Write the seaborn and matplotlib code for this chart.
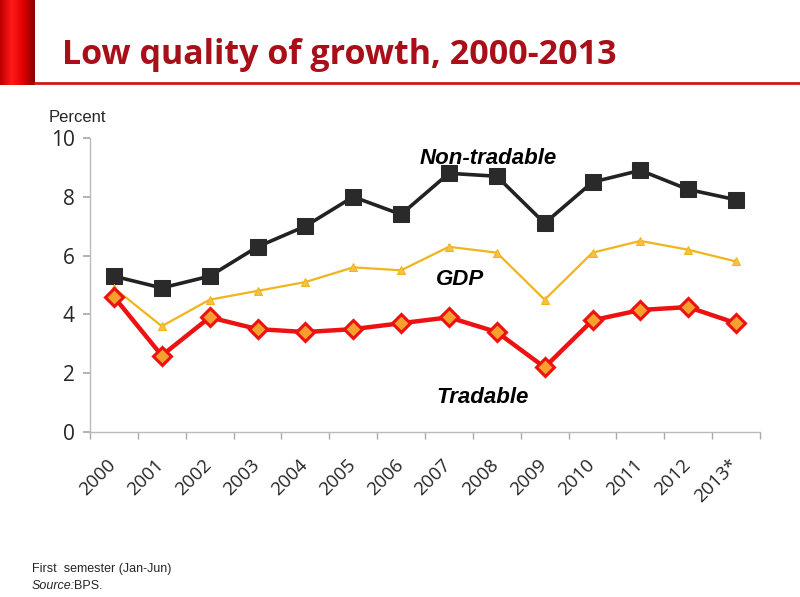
import matplotlib
matplotlib.use("Agg")
import matplotlib.pyplot as plt
import matplotlib.transforms as mtransforms
import seaborn as sns
import pandas as pd
import numpy as np
from matplotlib.lines import Line2D
from matplotlib.colors import LinearSegmentedColormap

years = ["2000", "2001", "2002", "2003", "2004", "2005", "2006", "2007",
         "2008", "2009", "2010", "2011", "2012", "2013*"]
non_tradable = [5.3, 4.9, 5.3, 6.3, 7.0, 8.0, 7.4, 8.8, 8.7, 7.1, 8.5, 8.9, 8.25, 7.9]
gdp = [4.9, 3.6, 4.5, 4.8, 5.1, 5.6, 5.5, 6.3, 6.1, 4.5, 6.1, 6.5, 6.2, 5.8]
tradable = [4.6, 2.6, 3.9, 3.5, 3.4, 3.5, 3.7, 3.9, 3.4, 2.2, 3.8, 4.15, 4.25, 3.7]

sns.set_theme(style="white")
plt.rcParams['font.family'] = ['Liberation Sans', 'DejaVu Sans']

fig = plt.figure(figsize=(8, 5.97), dpi=100)
fig.patch.set_facecolor("white")
ax = fig.add_axes([0.1125, 0.2764, 0.8375, 0.4924])

idx = np.arange(len(years))
df = pd.DataFrame({"x": idx, "Non-tradable": non_tradable, "GDP": gdp, "Tradable": tradable})

sns.lineplot(data=df, x="x", y="Non-tradable", ax=ax, color="#222222", lw=2.6,
             marker="s", markersize=11, markerfacecolor="#2a2a2a", markeredgecolor="#2a2a2a")
sns.lineplot(data=df, x="x", y="GDP", ax=ax, color="#f0b41c", lw=1.6,
             marker="^", markersize=6, markerfacecolor="#f5c243", markeredgecolor="#f0b41c")
sns.lineplot(data=df, x="x", y="Tradable", ax=ax, color="#ee1111", lw=3.2,
             marker="D", markersize=9, markerfacecolor="#f7a030", markeredgecolor="#ee1111",
             markeredgewidth=2.2)

ax.set_xlim(-0.5, len(years) - 0.5)
ax.set_ylim(0, 10)
ax.set_yticks([0, 2, 4, 6, 8, 10])
ax.set_yticklabels(["0", "2", "4", "6", "8", "10"], fontsize=15, family=['Open Sans', 'DejaVu Sans'])
ax.set_xticks(idx)
ax.set_xticklabels(years, rotation=45, ha="right", rotation_mode="anchor", fontsize=13.5,
                   family=['Open Sans', 'DejaVu Sans'])
ax.tick_params(axis="x", length=0, pad=17)
offset = mtransforms.ScaledTranslation(-7 / 100, 0, fig.dpi_scale_trans)
for lab in ax.get_xticklabels():
    lab.set_transform(lab.get_transform() + offset)
ax.set_xticks(np.arange(-0.5, len(years), 1), minor=True)
ax.tick_params(axis="x", which="minor", length=5, color="#aaaaaa", direction="out", bottom=True)
ax.tick_params(axis="y", length=5, color="#aaaaaa", direction="out", left=True, pad=6)
ax.set_xlabel("")
ax.set_ylabel("")
for s in ["top", "right"]:
    ax.spines[s].set_visible(False)
for s in ["left", "bottom"]:
    ax.spines[s].set_color("#bbbbbb")
    ax.spines[s].set_linewidth(1.0)

ax.text(7.82, 9.32, "Non-tradable", fontsize=16, fontweight="bold",
        fontstyle="italic", ha="center", va="center", color="black")
ax.text(7.24, 5.2, "GDP", fontsize=16, fontweight="bold", fontstyle="italic",
        ha="center", va="center", color="black")
ax.text(7.7, 1.19, "Tradable", fontsize=16, fontweight="bold", fontstyle="italic",
        ha="center", va="center", color="black")

fig.text(0.061, 0.804, "Percent", fontsize=12, ha="left", va="center")

# title decorations: gradient red bar
bar_ax = fig.add_axes([0, 1 - 85 / 597, 35 / 800, 85 / 597])
cmap = LinearSegmentedColormap.from_list("rb", ["#c00000", "#ff1a1a", "#e00000", "#8a0000"])
bar_ax.imshow(np.linspace(0, 1, 64)[None, :], aspect="auto", cmap=cmap, extent=[0, 1, 0, 1])
bar_ax.set_axis_off()
fig.lines.append(Line2D([35 / 800, 1.0], [1 - 83 / 597, 1 - 83 / 597], transform=fig.transFigure,
                        color="#cc1a1a", lw=2))
fig.text(62 / 800, 1 - 55 / 597, "Low quality of growth, 2000-2013", fontsize=24.5,
         fontweight="bold", color="#a80f18", ha="left", va="center",
         family=['Open Sans', 'DejaVu Sans'])

fig.text(32 / 800, 1 - 569 / 597, "First  semester (Jan-Jun)", fontsize=9, ha="left", va="center")
fig.text(32 / 800, 1 - 586 / 597, "Source:", fontsize=9, fontstyle="italic", ha="left", va="center")
fig.text(74 / 800, 1 - 586 / 597, "BPS.", fontsize=9, ha="left", va="center")

fig.savefig("out.png", dpi=100)
